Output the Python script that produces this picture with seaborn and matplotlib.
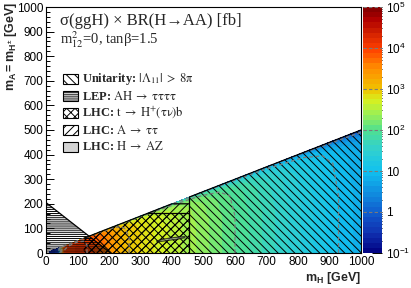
import numpy as np
import matplotlib
import matplotlib.pyplot as plt
import seaborn as sns
from matplotlib.colors import LinearSegmentedColormap
from matplotlib.patches import Polygon, Rectangle
from matplotlib.ticker import MultipleLocator, FixedLocator

mh_nodes = [10, 30, 40, 50, 60, 100, 150, 200, 250, 300, 400, 455, 500, 600, 700, 800, 900, 1000]
log_xsec = [-0.6, -0.5, -0.3, 3.0, 4.0, 4.15, 3.9, 3.5, 3.05, 2.87, 2.58, 2.43, 2.3, 2.0, 1.7, 1.4, 1.08, 0.8]

# drop of the cross section close to the kinematic edge m_A = m_H/2
ratio_nodes = [0.0, 0.5, 0.8, 0.9, 0.95, 0.98, 0.995, 1.0]
log_drop = [0.0, 0.0, -0.05, -0.15, -0.35, -0.75, -1.3, -1.8]

# excluded regions (m_H, m_A) in GeV
unit_mh = [455, 1000, 1000, 455]
unit_ma = [0, 0, 500, 227.5]
lep_mh = [0, 0, 205]
lep_ma = [0, 205, 0]
hpm_mh = [120, 455, 455, 324, 120]
hpm_ma = [0, 0, 162, 162, 60]
att_mh = [120, 455, 455, 400, 120]
att_ma = [0, 0, 200, 200, 60]
az_mh = [350, 368, 395, 425, 442, 440, 420, 392, 364]
az_ma = [48, 55, 61, 65, 67, 62, 57, 52, 47]

cbar_ticks = [-1, 0, 1, 2, 3, 4, 5]
cbar_labels = ['$10^{-1}$', '1', '10', '$10^{2}$', '$10^{3}$', '$10^{4}$', '$10^{5}$']
contour_levels = [0, 1, 2, 3, 4]

# bold prefix as plain (bold) text, the rest as upright math
legend_labels = [
    r'Unitarity: $\mathrm{|\Lambda_{11}|\;>\;8\pi}$',
    r'LEP: $\mathrm{AH\;\rightarrow\;\tau\tau\tau\tau}$',
    r'LHC: $\mathrm{t\;\rightarrow\;H^{+}(\tau\nu)b}$',
    r'LHC: $\mathrm{A\;\rightarrow\;\tau\tau}$',
    r'LHC: $\mathrm{H\;\rightarrow\;AZ}$',
]

sns.set_theme(style='ticks')
plt.rcParams['font.family'] = ['Liberation Sans', 'DejaVu Sans']
plt.rcParams['mathtext.fontset'] = 'custom'
plt.rcParams['mathtext.rm'] = 'Liberation Sans'
plt.rcParams['mathtext.bf'] = 'Liberation Sans:bold'
plt.rcParams['mathtext.it'] = 'Liberation Sans:italic'
plt.rcParams['hatch.linewidth'] = 0.7
plt.rcParams['axes.linewidth'] = 0.8

root_rainbow = LinearSegmentedColormap.from_list('root', [
    (0.00, '#000080'), (0.08, '#1030b0'), (0.17, '#1060d0'), (0.25, '#1090e0'),
    (0.33, '#10c0f0'), (0.42, '#30d0d0'), (0.50, '#50e090'), (0.57, '#a0f050'),
    (0.62, '#d8f020'), (0.67, '#f0c000'), (0.75, '#ff9000'), (0.83, '#ff4000'),
    (0.90, '#d02000'), (0.95, '#b00000'), (1.00, '#800000')])

dashed = (0, (3, 2))
pattern_unit = '\\\\\\\\'
pattern_lep = '--------'
pattern_hpm = 'xxxx'
pattern_att = '////'

fig = plt.figure(figsize=(4.11, 2.88), dpi=100)
ax = fig.add_axes([46 / 411, 35 / 288, 315 / 411, 246 / 288])
cax = fig.add_axes([363 / 411, 35 / 288, 19 / 411, 246 / 288])

# grid over the wedge 0 < m_A < m_H/2
mh = np.array(mh_nodes, dtype=float)
rr = np.array(ratio_nodes)
X = np.tile(mh, (len(rr), 1))
Y = rr[:, None] * mh[None, :] / 2
Z = np.clip(np.array(log_drop)[:, None] + np.array(log_xsec)[None, :], -0.99, 4.99)

levels = np.linspace(-1, 5, 49)
cs = ax.contourf(X, Y, Z, levels=levels, cmap=root_rainbow)
ax.contour(X, Y, Z, levels=contour_levels, colors='#7a7a7a', linestyles=[dashed],
           linewidths=0.9)

# hatched exclusions
ax.add_patch(Polygon(list(zip(unit_mh, unit_ma)), fill=False, hatch=pattern_unit,
                     edgecolor='black', lw=0))
ax.add_patch(Polygon(list(zip(lep_mh, lep_ma)), fill=False, hatch=pattern_lep,
                     edgecolor='black', lw=0))
ax.add_patch(Polygon(list(zip(hpm_mh, hpm_ma)), fill=False, hatch=pattern_hpm,
                     edgecolor='black', lw=0))
ax.add_patch(Polygon(list(zip(att_mh, att_ma)), fill=False, hatch=pattern_att,
                     edgecolor='black', lw=0))
ax.add_patch(Polygon(list(zip(az_mh, az_ma)), facecolor='#cccccc', alpha=0.7,
                     edgecolor='black', lw=0.9))

# region outlines
ax.plot(lep_mh[1:], lep_ma[1:], color='black', lw=0.9)
ax.plot(unit_mh[3:] + unit_mh[:1], unit_ma[3:] + unit_ma[:1], color='black', lw=0.9)
ax.plot(unit_mh[2:], unit_ma[2:], color='black', lw=0.9)
ax.plot(att_mh[2:], att_ma[2:], color='black', lw=0.9)
ax.plot(hpm_mh[2:4], hpm_ma[2:4], color='black', lw=0.9)

ax.set_xlim(0, 1000)
ax.set_ylim(0, 1000)
ax.xaxis.set_major_locator(MultipleLocator(100))
ax.yaxis.set_major_locator(MultipleLocator(100))
ax.xaxis.set_minor_locator(MultipleLocator(20))
ax.yaxis.set_minor_locator(MultipleLocator(20))
ax.tick_params(which='both', direction='in', top=False, right=False, width=0.7,
               labelsize=8.5, pad=2, colors='black')
ax.tick_params(which='major', length=6)
ax.tick_params(which='minor', length=3)
for s in ax.spines.values():
    s.set_color('black')

fig.text(361 / 411, 10 / 288, r'$\mathbf{m_{H}}$ [GeV]', ha='right', va='center',
         fontsize=9, fontweight='bold')
fig.text(11 / 411, 286 / 288, r'$\mathbf{m_{A} = m_{H^{\pm}}}$ [GeV]', rotation=90,
         ha='center', va='top', fontsize=9, fontweight='bold')

serif = ['Liberation Serif', 'DejaVu Serif']
ax.text(0.045, 0.942, 'σ(ggH) × BR(H→AA) [fb]', transform=ax.transAxes, fontsize=12,
        family=serif, va='center')
ax.text(0.045, 0.866, r'm$^{2}_{12}$=0, tanβ=1.5', transform=ax.transAxes, fontsize=10.5,
        family=serif, va='center', math_fontfamily='stix')

hatches = [pattern_unit, pattern_lep, pattern_hpm, pattern_att, None]
for i, (lab, h) in enumerate(zip(legend_labels, hatches)):
    yc = 0.707 - i * 0.069
    if h is None:
        rect = Rectangle((0.054, yc - 0.02), 0.048, 0.04, transform=ax.transAxes,
                         facecolor='#d4d4d4', edgecolor='black', lw=0.8)
    else:
        rect = Rectangle((0.054, yc - 0.02), 0.048, 0.04, transform=ax.transAxes,
                         facecolor='white', edgecolor='black', lw=0.8, hatch=h)
    ax.add_patch(rect)
    ax.text(0.114, yc, lab, transform=ax.transAxes, fontsize=9, family=serif,
            fontweight='bold', va='center', math_fontfamily='stix')

cbar = fig.colorbar(cs, cax=cax, ticks=cbar_ticks)
cbar.outline.set_visible(False)
cax.set_ylim(-1, 5)
cax.set_yticklabels(cbar_labels)
minor = [np.log10(k) + d for d in range(-1, 5) for k in range(2, 10)]
cax.yaxis.set_minor_locator(FixedLocator(minor))
cax.tick_params(which='both', direction='in', labelsize=8.5, pad=3, width=0.7,
                colors='black')
cax.tick_params(which='major', length=7)
cax.tick_params(which='minor', length=3)
for lv in contour_levels + [5]:
    cax.axhline(lv, color='#7a7a7a', ls=dashed, lw=0.8)

fig.savefig('out.png', dpi=100)
